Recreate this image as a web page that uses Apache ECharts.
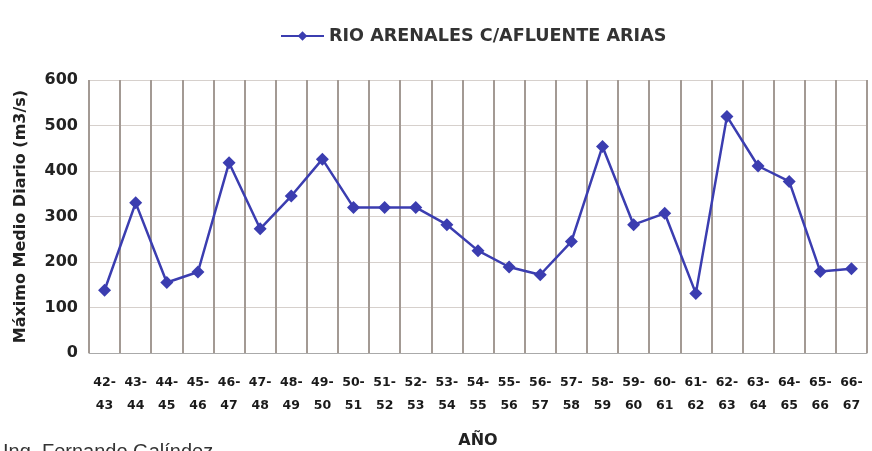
<!DOCTYPE html>
<html>
<head>
<meta charset="utf-8">
<script src="https://cdn.jsdelivr.net/npm/echarts@6/dist/echarts.min.js"></script>
<style>
html,body{margin:0;padding:0;background:#fff;}
#c{width:872px;height:451px;}
</style>
</head>
<body>
<div id="c"></div>
<script>
var categories = ["42-\n43","43-\n44","44-\n45","45-\n46","46-\n47","47-\n48","48-\n49","49-\n50","50-\n51","51-\n52","52-\n53","53-\n54","54-\n55","55-\n56","56-\n57","57-\n58","58-\n59","59-\n60","60-\n61","61-\n62","62-\n63","63-\n64","64-\n65","65-\n66","66-\n67"];
var seriesName = "RIO ARENALES C/AFLUENTE ARIAS";
var caudal = [138,330,155,178,418,273,345,426,320,320,320,282,225,189,172,245,454,282,307,131,520,411,377,179,185];
var yTicks = [0,100,200,300,400,500,600];

var chart = echarts.init(document.getElementById('c'));
var fontF = '"DejaVu Sans",sans-serif';
chart.setOption({
  backgroundColor:'#ffffff',
  animation:false,
  legend:{
    data:[seriesName],
    left:275, top:22,
    itemWidth:43, itemHeight:12,
    textStyle:{fontFamily:fontF,fontWeight:'bold',fontSize:17.6,color:'#333'}
  },
  grid:{left:89,right:5,top:80,bottom:98,outerBoundsMode:'none',containLabel:false},
  xAxis:{
    type:'category',
    data:categories,
    boundaryGap:true,
    name:'AÑO',
    nameLocation:'middle',
    nameGap:80,
    nameTextStyle:{fontFamily:fontF,fontWeight:'bold',fontSize:16,color:'#222'},
    axisLine:{show:true,lineStyle:{color:'#aaa',width:1}},
    axisTick:{show:false},
    splitLine:{show:true,lineStyle:{color:'#a39a94',width:2}},
    axisLabel:{interval:0,fontFamily:fontF,fontWeight:'bold',fontSize:12.5,color:'#1a1a1a',lineHeight:23,margin:18}
  },
  yAxis:{
    type:'value',
    min:yTicks[0],max:yTicks[yTicks.length-1],interval:100,
    name:'Máximo Medio Diario (m3/s)',
    nameLocation:'middle',
    nameGap:60,
    nameRotate:90,
    nameTextStyle:{fontFamily:fontF,fontWeight:'bold',fontSize:16,color:'#222'},
    axisLine:{show:false},
    axisTick:{show:false},
    splitLine:{show:true,lineStyle:{color:'#d6d0cc',width:1}},
    axisLabel:{fontFamily:fontF,fontWeight:'bold',fontSize:16,color:'#222',margin:11}
  },
  series:[{
    name:seriesName,
    type:'line',
    data:caudal,
    symbol:'diamond',
    symbolSize:13,
    lineStyle:{color:'#3b3db0',width:2.5},
    itemStyle:{color:'#3b3db0'}
  }],
  graphic:[{
    type:'text',left:3,top:442,
    style:{text:'Ing. Fernando Galíndez',fontFamily:'"Liberation Sans",Arial,sans-serif',fontSize:20,fill:'#333'}
  }]
});
</script>
</body>
</html>
